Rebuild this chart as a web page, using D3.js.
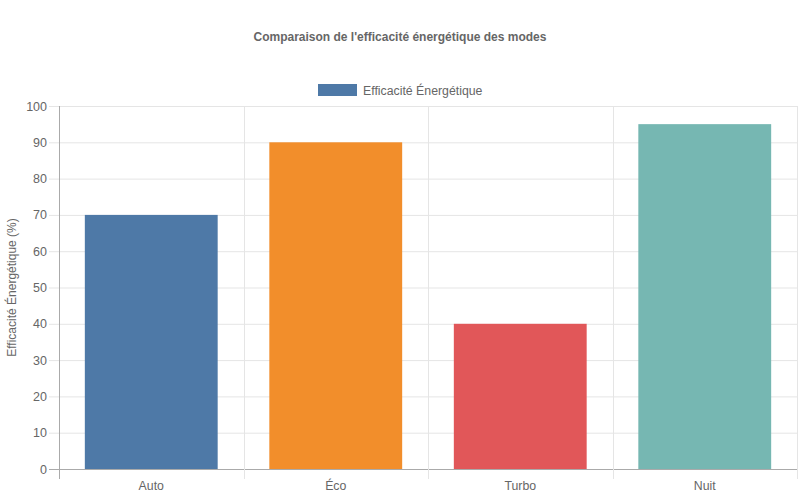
<!DOCTYPE html>
<html>
<head>
<meta charset="utf-8">
<script src="https://cdn.jsdelivr.net/npm/d3@7"></script>
<style>
  body { margin: 0; background: #fff; }
  svg { font-family: "Liberation Sans", Arial, sans-serif; }
</style>
</head>
<body>
<div id="chart"></div>
<script>
var modes = ["Auto", "Éco", "Turbo", "Nuit"];
var efficacite = [70, 90, 40, 95];
var couleurs = ["#4e79a7", "#f28e2b", "#e15759", "#76b7b2"];
var yTicks = [0, 10, 20, 30, 40, 50, 60, 70, 80, 90, 100];

var width = 800,
    height = 500;
var margin = { top: 106, right: 3, bottom: 31, left: 59 };

var svg = d3.select("#chart").append("svg")
    .attr("width", width)
    .attr("height", height);

var x = d3.scaleBand()
    .domain(modes)
    .range([margin.left, width - margin.right])
    .paddingInner(0)
    .paddingOuter(0);

var y = d3.scaleLinear()
    .domain([0, 100])
    .range([height - margin.bottom, margin.top]);

// horizontal grid
svg.append("g")
    .selectAll("line")
    .data(yTicks)
    .enter()
    .append("line")
    .attr("x1", margin.left - 10)
    .attr("x2", width - margin.right)
    .attr("y1", function (d) { return y(d) + 0.5; })
    .attr("y2", function (d) { return y(d) + 0.5; })
    .attr("stroke", function (d) { return d === 0 ? "#aaa" : "#e5e5e5"; });

// vertical grid (category boundaries)
var bounds = modes.map(function (m) { return x(m); });
bounds.push(width - margin.right);
svg.append("g")
    .selectAll("line")
    .data(bounds)
    .enter()
    .append("line")
    .attr("x1", function (d) { return Math.round(d) + 0.5; })
    .attr("x2", function (d) { return Math.round(d) + 0.5; })
    .attr("y1", margin.top)
    .attr("y2", height - margin.bottom + 10)
    .attr("stroke", function (d, i) { return i === 0 ? "#aaa" : "#e5e5e5"; });

// y axis labels
var yAxis = d3.axisLeft(y).tickValues(yTicks).tickSize(0).tickPadding(12);
svg.append("g")
    .attr("transform", "translate(" + margin.left + ",0)")
    .call(yAxis)
    .call(function (g) { g.select(".domain").remove(); })
    .selectAll("text")
    .attr("fill", "#666")
    .style("font-size", "12.5px");

// x axis labels
var xAxis = d3.axisBottom(x).tickSize(0).tickPadding(12);
svg.append("g")
    .attr("transform", "translate(0," + (height - margin.bottom) + ")")
    .call(xAxis)
    .call(function (g) { g.select(".domain").remove(); })
    .selectAll("text")
    .attr("fill", "#666")
    .style("font-size", "12.3px");

// bars
var barW = x.bandwidth() * 0.72;
svg.append("g")
    .selectAll("rect")
    .data(efficacite)
    .enter()
    .append("rect")
    .attr("x", function (d, i) { return x(modes[i]) + (x.bandwidth() - barW) / 2; })
    .attr("y", function (d) { return y(d); })
    .attr("width", barW)
    .attr("height", function (d) { return y(0) - y(d); })
    .attr("fill", function (d, i) { return couleurs[i]; });

// title
svg.append("text")
    .attr("x", width / 2)
    .attr("y", 41)
    .attr("text-anchor", "middle")
    .attr("fill", "#666")
    .style("font-size", "12px")
    .style("font-weight", "bold")
    .text("Comparaison de l'efficacité énergétique des modes");

// legend
var legend = svg.append("g");
legend.append("rect")
    .attr("x", 318)
    .attr("y", 84)
    .attr("width", 39)
    .attr("height", 12)
    .attr("fill", couleurs[0]);
legend.append("text")
    .attr("x", 363)
    .attr("y", 94.5)
    .attr("fill", "#666")
    .style("font-size", "12.3px")
    .text("Efficacité Énergétique");

// y axis title
svg.append("text")
    .attr("transform", "translate(16," + ((margin.top + height - margin.bottom) / 2) + ") rotate(-90)")
    .attr("text-anchor", "middle")
    .attr("fill", "#666")
    .style("font-size", "12px")
    .text("Efficacité Énergétique (%)");
</script>
</body>
</html>
